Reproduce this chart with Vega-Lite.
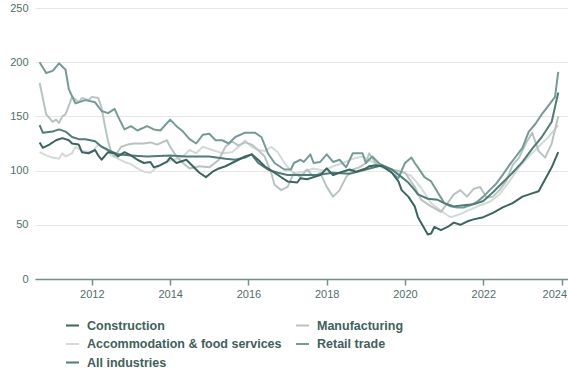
{
  "$schema": "https://vega.github.io/schema/vega-lite/v6.json",
  "width": 533,
  "height": 271,
  "autosize": {"type": "none"},
  "padding": {"left": 35, "top": 8, "right": 0, "bottom": 94},
  "background": "white",
  "config": {"view": {"stroke": null}, "font": "Liberation Sans"},
  "data": {"values": [
{"s":"Accommodation & food services","d":"2010-09","v":117},{"s":"Accommodation & food services","d":"2010-11","v":114},{"s":"Accommodation & food services","d":"2011-01","v":112},{"s":"Accommodation & food services","d":"2011-03","v":111},{"s":"Accommodation & food services","d":"2011-04","v":116},{"s":"Accommodation & food services","d":"2011-05","v":113},{"s":"Accommodation & food services","d":"2011-07","v":116},{"s":"Accommodation & food services","d":"2011-08","v":122},{"s":"Accommodation & food services","d":"2011-10","v":118},{"s":"Accommodation & food services","d":"2012-01","v":117},{"s":"Accommodation & food services","d":"2012-03","v":124},{"s":"Accommodation & food services","d":"2012-05","v":121},{"s":"Accommodation & food services","d":"2012-07","v":114},{"s":"Accommodation & food services","d":"2012-09","v":111},{"s":"Accommodation & food services","d":"2012-11","v":108},{"s":"Accommodation & food services","d":"2013-01","v":106},{"s":"Accommodation & food services","d":"2013-03","v":102},{"s":"Accommodation & food services","d":"2013-05","v":99},{"s":"Accommodation & food services","d":"2013-07","v":98},{"s":"Accommodation & food services","d":"2013-09","v":103},{"s":"Accommodation & food services","d":"2013-11","v":107},{"s":"Accommodation & food services","d":"2014-02","v":110},{"s":"Accommodation & food services","d":"2014-05","v":113},{"s":"Accommodation & food services","d":"2014-07","v":119},{"s":"Accommodation & food services","d":"2014-09","v":116},{"s":"Accommodation & food services","d":"2014-11","v":122},{"s":"Accommodation & food services","d":"2015-02","v":119},{"s":"Accommodation & food services","d":"2015-05","v":116},{"s":"Accommodation & food services","d":"2015-08","v":117},{"s":"Accommodation & food services","d":"2015-10","v":122},{"s":"Accommodation & food services","d":"2015-12","v":128},{"s":"Accommodation & food services","d":"2016-02","v":122},{"s":"Accommodation & food services","d":"2016-04","v":119},{"s":"Accommodation & food services","d":"2016-06","v":118},{"s":"Accommodation & food services","d":"2016-08","v":122},{"s":"Accommodation & food services","d":"2016-10","v":117},{"s":"Accommodation & food services","d":"2016-12","v":107},{"s":"Accommodation & food services","d":"2017-03","v":97},{"s":"Accommodation & food services","d":"2017-06","v":99},{"s":"Accommodation & food services","d":"2017-09","v":102},{"s":"Accommodation & food services","d":"2017-12","v":100},{"s":"Accommodation & food services","d":"2018-03","v":104},{"s":"Accommodation & food services","d":"2018-06","v":107},{"s":"Accommodation & food services","d":"2018-09","v":111},{"s":"Accommodation & food services","d":"2018-12","v":113},{"s":"Accommodation & food services","d":"2019-03","v":108},{"s":"Accommodation & food services","d":"2019-06","v":104},{"s":"Accommodation & food services","d":"2019-09","v":100},{"s":"Accommodation & food services","d":"2019-12","v":99},{"s":"Accommodation & food services","d":"2020-03","v":95},{"s":"Accommodation & food services","d":"2020-06","v":84},{"s":"Accommodation & food services","d":"2020-09","v":70},{"s":"Accommodation & food services","d":"2020-12","v":63},{"s":"Accommodation & food services","d":"2021-03","v":57},{"s":"Accommodation & food services","d":"2021-06","v":60},{"s":"Accommodation & food services","d":"2021-09","v":64},{"s":"Accommodation & food services","d":"2021-12","v":68},{"s":"Accommodation & food services","d":"2022-03","v":71},{"s":"Accommodation & food services","d":"2022-06","v":78},{"s":"Accommodation & food services","d":"2022-09","v":90},{"s":"Accommodation & food services","d":"2022-12","v":103},{"s":"Accommodation & food services","d":"2023-03","v":113},{"s":"Accommodation & food services","d":"2023-06","v":122},{"s":"Accommodation & food services","d":"2023-09","v":131},{"s":"Accommodation & food services","d":"2023-12","v":142},
{"s":"Manufacturing","d":"2010-09","v":181},{"s":"Manufacturing","d":"2010-10","v":167},{"s":"Manufacturing","d":"2010-11","v":152},{"s":"Manufacturing","d":"2011-01","v":145},{"s":"Manufacturing","d":"2011-02","v":147},{"s":"Manufacturing","d":"2011-03","v":144},{"s":"Manufacturing","d":"2011-04","v":150},{"s":"Manufacturing","d":"2011-05","v":152},{"s":"Manufacturing","d":"2011-06","v":160},{"s":"Manufacturing","d":"2011-07","v":168},{"s":"Manufacturing","d":"2011-09","v":163},{"s":"Manufacturing","d":"2011-10","v":167},{"s":"Manufacturing","d":"2011-12","v":165},{"s":"Manufacturing","d":"2012-01","v":168},{"s":"Manufacturing","d":"2012-03","v":167},{"s":"Manufacturing","d":"2012-04","v":158},{"s":"Manufacturing","d":"2012-05","v":142},{"s":"Manufacturing","d":"2012-06","v":127},{"s":"Manufacturing","d":"2012-07","v":117},{"s":"Manufacturing","d":"2012-08","v":113},{"s":"Manufacturing","d":"2012-10","v":122},{"s":"Manufacturing","d":"2012-12","v":124},{"s":"Manufacturing","d":"2013-02","v":125},{"s":"Manufacturing","d":"2013-05","v":125},{"s":"Manufacturing","d":"2013-07","v":126},{"s":"Manufacturing","d":"2013-09","v":124},{"s":"Manufacturing","d":"2013-12","v":128},{"s":"Manufacturing","d":"2014-01","v":122},{"s":"Manufacturing","d":"2014-03","v":113},{"s":"Manufacturing","d":"2014-05","v":107},{"s":"Manufacturing","d":"2014-07","v":102},{"s":"Manufacturing","d":"2014-10","v":104},{"s":"Manufacturing","d":"2015-01","v":103},{"s":"Manufacturing","d":"2015-04","v":110},{"s":"Manufacturing","d":"2015-06","v":122},{"s":"Manufacturing","d":"2015-08","v":127},{"s":"Manufacturing","d":"2015-10","v":123},{"s":"Manufacturing","d":"2015-12","v":126},{"s":"Manufacturing","d":"2016-02","v":124},{"s":"Manufacturing","d":"2016-04","v":119},{"s":"Manufacturing","d":"2016-06","v":113},{"s":"Manufacturing","d":"2016-08","v":98},{"s":"Manufacturing","d":"2016-09","v":87},{"s":"Manufacturing","d":"2016-11","v":82},{"s":"Manufacturing","d":"2017-01","v":85},{"s":"Manufacturing","d":"2017-03","v":98},{"s":"Manufacturing","d":"2017-05","v":94},{"s":"Manufacturing","d":"2017-07","v":101},{"s":"Manufacturing","d":"2017-09","v":94},{"s":"Manufacturing","d":"2017-11","v":98},{"s":"Manufacturing","d":"2018-01","v":85},{"s":"Manufacturing","d":"2018-03","v":76},{"s":"Manufacturing","d":"2018-05","v":82},{"s":"Manufacturing","d":"2018-07","v":94},{"s":"Manufacturing","d":"2018-09","v":101},{"s":"Manufacturing","d":"2018-11","v":103},{"s":"Manufacturing","d":"2019-01","v":107},{"s":"Manufacturing","d":"2019-02","v":116},{"s":"Manufacturing","d":"2019-04","v":107},{"s":"Manufacturing","d":"2019-06","v":103},{"s":"Manufacturing","d":"2019-09","v":101},{"s":"Manufacturing","d":"2020-01","v":98},{"s":"Manufacturing","d":"2020-04","v":85},{"s":"Manufacturing","d":"2020-06","v":73},{"s":"Manufacturing","d":"2020-09","v":67},{"s":"Manufacturing","d":"2020-12","v":62},{"s":"Manufacturing","d":"2021-02","v":70},{"s":"Manufacturing","d":"2021-04","v":78},{"s":"Manufacturing","d":"2021-06","v":82},{"s":"Manufacturing","d":"2021-08","v":76},{"s":"Manufacturing","d":"2021-10","v":83},{"s":"Manufacturing","d":"2021-12","v":85},{"s":"Manufacturing","d":"2022-02","v":75},{"s":"Manufacturing","d":"2022-04","v":76},{"s":"Manufacturing","d":"2022-06","v":82},{"s":"Manufacturing","d":"2022-08","v":90},{"s":"Manufacturing","d":"2022-10","v":105},{"s":"Manufacturing","d":"2022-12","v":112},{"s":"Manufacturing","d":"2023-02","v":125},{"s":"Manufacturing","d":"2023-04","v":135},{"s":"Manufacturing","d":"2023-06","v":118},{"s":"Manufacturing","d":"2023-08","v":112},{"s":"Manufacturing","d":"2023-10","v":125},{"s":"Manufacturing","d":"2023-12","v":150},
{"s":"Retail trade","d":"2010-09","v":200},{"s":"Retail trade","d":"2010-11","v":190},{"s":"Retail trade","d":"2011-01","v":192},{"s":"Retail trade","d":"2011-03","v":199},{"s":"Retail trade","d":"2011-05","v":193},{"s":"Retail trade","d":"2011-06","v":175},{"s":"Retail trade","d":"2011-08","v":162},{"s":"Retail trade","d":"2011-11","v":165},{"s":"Retail trade","d":"2012-02","v":163},{"s":"Retail trade","d":"2012-04","v":155},{"s":"Retail trade","d":"2012-06","v":153},{"s":"Retail trade","d":"2012-08","v":157},{"s":"Retail trade","d":"2012-09","v":150},{"s":"Retail trade","d":"2012-11","v":138},{"s":"Retail trade","d":"2013-01","v":141},{"s":"Retail trade","d":"2013-03","v":137},{"s":"Retail trade","d":"2013-06","v":141},{"s":"Retail trade","d":"2013-08","v":138},{"s":"Retail trade","d":"2013-10","v":137},{"s":"Retail trade","d":"2014-01","v":147},{"s":"Retail trade","d":"2014-03","v":141},{"s":"Retail trade","d":"2014-05","v":136},{"s":"Retail trade","d":"2014-07","v":129},{"s":"Retail trade","d":"2014-09","v":125},{"s":"Retail trade","d":"2014-11","v":133},{"s":"Retail trade","d":"2015-01","v":134},{"s":"Retail trade","d":"2015-03","v":128},{"s":"Retail trade","d":"2015-05","v":128},{"s":"Retail trade","d":"2015-07","v":125},{"s":"Retail trade","d":"2015-09","v":131},{"s":"Retail trade","d":"2015-12","v":135},{"s":"Retail trade","d":"2016-03","v":135},{"s":"Retail trade","d":"2016-05","v":131},{"s":"Retail trade","d":"2016-07","v":116},{"s":"Retail trade","d":"2016-09","v":107},{"s":"Retail trade","d":"2016-12","v":101},{"s":"Retail trade","d":"2017-02","v":101},{"s":"Retail trade","d":"2017-03","v":107},{"s":"Retail trade","d":"2017-05","v":110},{"s":"Retail trade","d":"2017-06","v":108},{"s":"Retail trade","d":"2017-08","v":115},{"s":"Retail trade","d":"2017-09","v":107},{"s":"Retail trade","d":"2017-11","v":108},{"s":"Retail trade","d":"2018-01","v":115},{"s":"Retail trade","d":"2018-03","v":108},{"s":"Retail trade","d":"2018-05","v":110},{"s":"Retail trade","d":"2018-07","v":103},{"s":"Retail trade","d":"2018-09","v":116},{"s":"Retail trade","d":"2018-12","v":116},{"s":"Retail trade","d":"2019-01","v":107},{"s":"Retail trade","d":"2019-03","v":113},{"s":"Retail trade","d":"2019-05","v":107},{"s":"Retail trade","d":"2019-07","v":103},{"s":"Retail trade","d":"2019-09","v":98},{"s":"Retail trade","d":"2019-11","v":93},{"s":"Retail trade","d":"2020-01","v":107},{"s":"Retail trade","d":"2020-03","v":112},{"s":"Retail trade","d":"2020-04","v":107},{"s":"Retail trade","d":"2020-05","v":103},{"s":"Retail trade","d":"2020-07","v":94},{"s":"Retail trade","d":"2020-09","v":90},{"s":"Retail trade","d":"2020-11","v":80},{"s":"Retail trade","d":"2021-01","v":70},{"s":"Retail trade","d":"2021-03","v":67},{"s":"Retail trade","d":"2021-05","v":66},{"s":"Retail trade","d":"2021-07","v":66},{"s":"Retail trade","d":"2021-09","v":68},{"s":"Retail trade","d":"2021-11","v":71},{"s":"Retail trade","d":"2022-01","v":76},{"s":"Retail trade","d":"2022-03","v":82},{"s":"Retail trade","d":"2022-05","v":88},{"s":"Retail trade","d":"2022-07","v":96},{"s":"Retail trade","d":"2022-09","v":105},{"s":"Retail trade","d":"2022-11","v":113},{"s":"Retail trade","d":"2023-01","v":121},{"s":"Retail trade","d":"2023-03","v":136},{"s":"Retail trade","d":"2023-05","v":143},{"s":"Retail trade","d":"2023-07","v":152},{"s":"Retail trade","d":"2023-09","v":160},{"s":"Retail trade","d":"2023-11","v":168},{"s":"Retail trade","d":"2023-12","v":191},
{"s":"All industries","d":"2010-09","v":142},{"s":"All industries","d":"2010-10","v":135},{"s":"All industries","d":"2011-01","v":136},{"s":"All industries","d":"2011-03","v":138},{"s":"All industries","d":"2011-05","v":136},{"s":"All industries","d":"2011-07","v":131},{"s":"All industries","d":"2011-09","v":129},{"s":"All industries","d":"2011-11","v":129},{"s":"All industries","d":"2012-02","v":127},{"s":"All industries","d":"2012-04","v":122},{"s":"All industries","d":"2012-06","v":119},{"s":"All industries","d":"2012-09","v":115},{"s":"All industries","d":"2013-01","v":114},{"s":"All industries","d":"2013-06","v":113},{"s":"All industries","d":"2014-01","v":114},{"s":"All industries","d":"2014-06","v":113},{"s":"All industries","d":"2015-01","v":113},{"s":"All industries","d":"2015-06","v":111},{"s":"All industries","d":"2015-09","v":110},{"s":"All industries","d":"2015-12","v":112},{"s":"All industries","d":"2016-02","v":115},{"s":"All industries","d":"2016-04","v":107},{"s":"All industries","d":"2016-07","v":101},{"s":"All industries","d":"2016-10","v":98},{"s":"All industries","d":"2017-01","v":96},{"s":"All industries","d":"2017-06","v":96},{"s":"All industries","d":"2017-10","v":96},{"s":"All industries","d":"2018-03","v":98},{"s":"All industries","d":"2018-08","v":97},{"s":"All industries","d":"2019-01","v":101},{"s":"All industries","d":"2019-06","v":105},{"s":"All industries","d":"2019-09","v":101},{"s":"All industries","d":"2019-12","v":94},{"s":"All industries","d":"2020-02","v":89},{"s":"All industries","d":"2020-04","v":82},{"s":"All industries","d":"2020-05","v":78},{"s":"All industries","d":"2020-08","v":74},{"s":"All industries","d":"2020-11","v":73},{"s":"All industries","d":"2021-01","v":70},{"s":"All industries","d":"2021-04","v":67},{"s":"All industries","d":"2021-07","v":68},{"s":"All industries","d":"2021-10","v":69},{"s":"All industries","d":"2022-01","v":72},{"s":"All industries","d":"2022-04","v":80},{"s":"All industries","d":"2022-07","v":89},{"s":"All industries","d":"2022-10","v":98},{"s":"All industries","d":"2023-01","v":108},{"s":"All industries","d":"2023-04","v":120},{"s":"All industries","d":"2023-07","v":131},{"s":"All industries","d":"2023-10","v":145},{"s":"All industries","d":"2023-12","v":172},
{"s":"Construction","d":"2010-09","v":126},{"s":"Construction","d":"2010-10","v":121},{"s":"Construction","d":"2010-12","v":124},{"s":"Construction","d":"2011-02","v":128},{"s":"Construction","d":"2011-04","v":130},{"s":"Construction","d":"2011-06","v":128},{"s":"Construction","d":"2011-07","v":125},{"s":"Construction","d":"2011-09","v":124},{"s":"Construction","d":"2011-10","v":117},{"s":"Construction","d":"2011-12","v":116},{"s":"Construction","d":"2012-02","v":119},{"s":"Construction","d":"2012-03","v":114},{"s":"Construction","d":"2012-04","v":110},{"s":"Construction","d":"2012-06","v":117},{"s":"Construction","d":"2012-08","v":116},{"s":"Construction","d":"2012-09","v":113},{"s":"Construction","d":"2012-11","v":117},{"s":"Construction","d":"2013-01","v":114},{"s":"Construction","d":"2013-03","v":110},{"s":"Construction","d":"2013-05","v":107},{"s":"Construction","d":"2013-07","v":108},{"s":"Construction","d":"2013-08","v":103},{"s":"Construction","d":"2013-10","v":105},{"s":"Construction","d":"2013-12","v":108},{"s":"Construction","d":"2014-01","v":112},{"s":"Construction","d":"2014-03","v":107},{"s":"Construction","d":"2014-06","v":110},{"s":"Construction","d":"2014-08","v":104},{"s":"Construction","d":"2014-10","v":98},{"s":"Construction","d":"2014-12","v":94},{"s":"Construction","d":"2015-02","v":99},{"s":"Construction","d":"2015-04","v":102},{"s":"Construction","d":"2015-06","v":104},{"s":"Construction","d":"2015-08","v":107},{"s":"Construction","d":"2015-10","v":110},{"s":"Construction","d":"2015-12","v":113},{"s":"Construction","d":"2016-02","v":115},{"s":"Construction","d":"2016-04","v":110},{"s":"Construction","d":"2016-06","v":104},{"s":"Construction","d":"2016-09","v":98},{"s":"Construction","d":"2016-12","v":92},{"s":"Construction","d":"2017-01","v":90},{"s":"Construction","d":"2017-04","v":89},{"s":"Construction","d":"2017-05","v":93},{"s":"Construction","d":"2017-07","v":92},{"s":"Construction","d":"2017-09","v":94},{"s":"Construction","d":"2017-11","v":96},{"s":"Construction","d":"2018-01","v":102},{"s":"Construction","d":"2018-03","v":96},{"s":"Construction","d":"2018-05","v":98},{"s":"Construction","d":"2018-08","v":101},{"s":"Construction","d":"2018-10","v":99},{"s":"Construction","d":"2019-01","v":102},{"s":"Construction","d":"2019-02","v":104},{"s":"Construction","d":"2019-04","v":105},{"s":"Construction","d":"2019-06","v":104},{"s":"Construction","d":"2019-09","v":98},{"s":"Construction","d":"2019-11","v":90},{"s":"Construction","d":"2019-12","v":82},{"s":"Construction","d":"2020-02","v":76},{"s":"Construction","d":"2020-04","v":67},{"s":"Construction","d":"2020-05","v":57},{"s":"Construction","d":"2020-08","v":41},{"s":"Construction","d":"2020-09","v":42},{"s":"Construction","d":"2020-10","v":48},{"s":"Construction","d":"2020-12","v":45},{"s":"Construction","d":"2021-02","v":48},{"s":"Construction","d":"2021-04","v":52},{"s":"Construction","d":"2021-06","v":50},{"s":"Construction","d":"2021-08","v":53},{"s":"Construction","d":"2021-10","v":55},{"s":"Construction","d":"2022-01","v":57},{"s":"Construction","d":"2022-04","v":61},{"s":"Construction","d":"2022-07","v":66},{"s":"Construction","d":"2022-10","v":70},{"s":"Construction","d":"2023-01","v":76},{"s":"Construction","d":"2023-04","v":79},{"s":"Construction","d":"2023-06","v":81},{"s":"Construction","d":"2023-08","v":92},{"s":"Construction","d":"2023-10","v":103},{"s":"Construction","d":"2023-12","v":117}
  ]},
  "mark": {"type": "line", "strokeWidth": 2, "strokeJoin": "round", "interpolate": "linear"},
  "encoding": {
    "x": {
      "field": "d", "type": "temporal",
      "scale": {"domain": ["2010-07-20", "2024-03-01"]},
      "axis": {
        "title": null, "grid": false, "format": "%Y",
        "values": [{"year": 2012}, {"year": 2014}, {"year": 2016}, {"year": 2018}, {"year": 2020}, {"year": 2022}, {"year": 2024}],
        "domainColor": "#6e918c", "domainWidth": 1.5,
        "tickColor": "#6e918c", "tickWidth": 1.5, "tickSize": 6,
        "labelFlush": 12, "labelFlushOffset": 5,
        "labelColor": "#4f6f6b", "labelFontSize": 11, "labelPadding": 3, "labelFont": "Liberation Sans"
      }
    },
    "y": {
      "field": "v", "type": "quantitative",
      "scale": {"domain": [0, 250], "nice": false},
      "axis": {
        "title": null, "values": [0, 50, 100, 150, 200, 250],
        "domain": false, "ticks": false,
        "gridColor": "#e6e6e6", "gridWidth": 1,
        "labelColor": "#4f6f6b", "labelFontSize": 11, "labelPadding": 7, "labelFont": "Liberation Sans"
      }
    },
    "color": {
      "field": "s", "type": "nominal",
      "scale": {
        "domain": ["Construction", "Manufacturing", "Accommodation & food services", "Retail trade", "All industries"],
        "range": ["#3a6660", "#b7c4c1", "#d3dbd9", "#739c96", "#4e7d77"]
      },
      "legend": {
        "title": null, "orient": "none", "legendX": 30, "legendY": 310,
        "direction": "horizontal", "columns": 2, "columnPadding": 10, "rowPadding": 4.5,
        "symbolType": "stroke", "symbolSize": 169, "symbolStrokeWidth": 2,
        "labelFont": "Liberation Sans", "labelFontSize": 12.5, "labelFontWeight": "bold",
        "labelColor": "#3e615c", "labelOffset": 7, "labelLimit": 300
      }
    }
  }
}
